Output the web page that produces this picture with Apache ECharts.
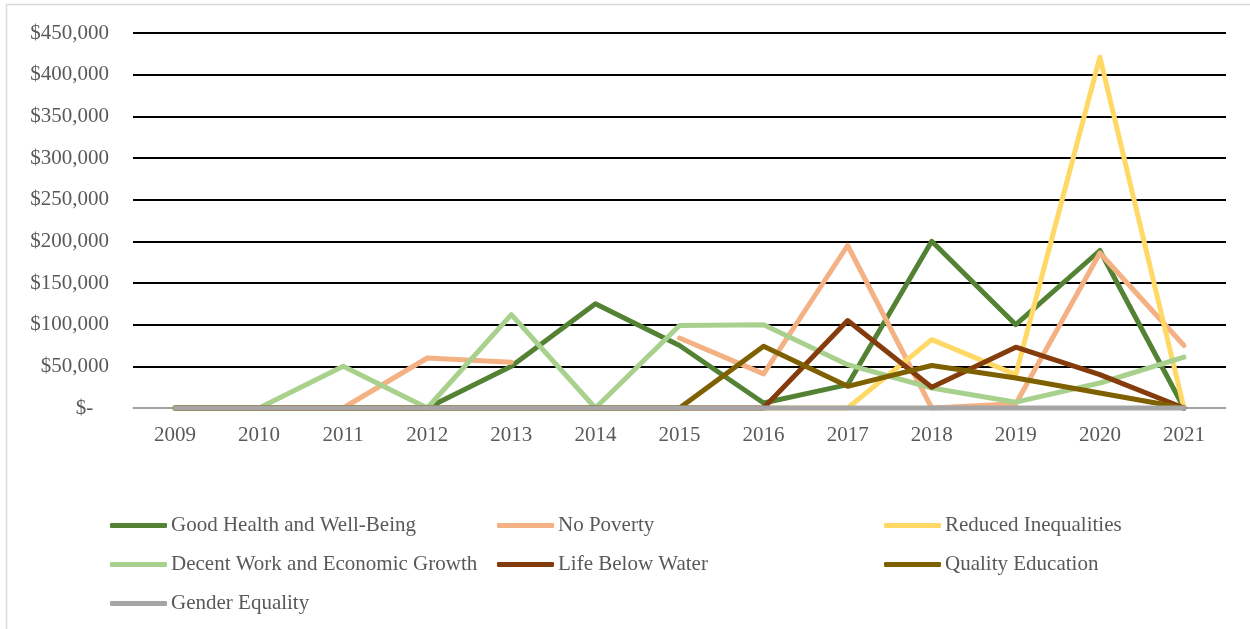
<!DOCTYPE html>
<html>
<head>
<meta charset="utf-8">
<script src="https://cdn.jsdelivr.net/npm/echarts@6/dist/echarts.min.js"></script>
<style>
  html, body { margin: 0; padding: 0; background: #fff; }
  #chart { width: 1250px; height: 629px; }
</style>
</head>
<body>
<div id="chart"></div>
<script>
// Annual funding by Sustainable Development Goal
const years = ['2009','2010','2011','2012','2013','2014','2015','2016','2017','2018','2019','2020','2021'];

const goodHealth        = [0, 0, 0, 0, 50000, 125000, 75000, 6000, 28000, 200000, 100000, 189000, 0];
const noPoverty         = [0, 0, 0, 60000, 55000, null, 84000, 41000, 195000, 0, 5000, 186000, 75000];
const reducedInequal    = [0, 0, 0, 0, 0, 0, 0, 0, 0, 82000, 40000, 421000, 0];
const decentWork        = [0, 0, 50000, 0, 112000, 0, 99000, 100000, 52000, 24000, 7000, 30000, 61000];
const lifeBelowWater    = [0, 0, 0, 0, 0, 0, 0, 0, 105000, 25000, 73000, 40000, 0];
const qualityEducation  = [0, 0, 0, 0, 0, 0, 0, 74000, 26000, 51000, 36000, 18000, 0];
const genderEquality    = [0, 0, 0, 0, 0, 0, 0, 0, 0, 0, 0, 0, 0];

const seriesDefs = [
  { name: 'Good Health and Well-Being',      data: goodHealth,       color: '#548235' },
  { name: 'No Poverty',                      data: noPoverty,        color: '#F4B183' },
  { name: 'Reduced Inequalities',            data: reducedInequal,   color: '#FFD966' },
  { name: 'Decent Work and Economic Growth', data: decentWork,       color: '#A9D18E' },
  { name: 'Life Below Water',                data: lifeBelowWater,   color: '#843C0C' },
  { name: 'Quality Education',               data: qualityEducation, color: '#7F6000' },
  { name: 'Gender Equality',                 data: genderEquality,   color: '#A5A5A5' }
];

const FONT = '"Liberation Serif", "Times New Roman", serif';
const TEXT_COLOR = '#595959';
const FONT_SIZE = 21;

function money(v) {
  if (v === 0) return '$-   ';
  return '$' + v.toLocaleString('en-US');
}

const chart = echarts.init(document.getElementById('chart'), null, { renderer: 'canvas' });

// Legend laid out as three fixed columns
const legendCols = [110, 497, 884];
const legendRows = [514, 553, 592];
const legends = seriesDefs.map((s, i) => ({
  data: [{ name: s.name }],
  left: legendCols[i % 3],
  top: legendRows[Math.floor(i / 3)] + 1,
  orient: 'horizontal',
  itemWidth: 57,
  itemHeight: 5,
  itemGap: 0,
  padding: 0,
  icon: 'roundRect',
  textStyle: { fontFamily: FONT, fontSize: FONT_SIZE, color: TEXT_COLOR, padding: [0, 0, 0, -1] },
  selectedMode: false
}));

chart.setOption({
  animation: false,
  backgroundColor: '#ffffff',
  graphic: [{
    type: 'rect',
    shape: { x: 6.5, y: 4.5, width: 1300, height: 700 },
    style: { fill: 'none', stroke: '#D9D9D9', lineWidth: 1.5 },
    silent: true,
    z: -10
  }],
  legend: legends,
  grid: { left: 133, right: 24, top: 33, bottom: 221, containLabel: false },
  xAxis: {
    type: 'category',
    data: years,
    boundaryGap: true,
    axisLine: { show: true, lineStyle: { color: '#D9D9D9', width: 1.5 } },
    axisTick: { show: false },
    axisLabel: { fontFamily: FONT, fontSize: FONT_SIZE, color: TEXT_COLOR, margin: 17 },
    splitLine: { show: false }
  },
  yAxis: {
    type: 'value',
    min: 0,
    max: 450000,
    interval: 50000,
    axisLine: { show: false },
    axisTick: { show: false },
    axisLabel: { fontFamily: FONT, fontSize: FONT_SIZE, color: TEXT_COLOR, margin: 24, formatter: money },
    splitLine: { show: true, lineStyle: { color: '#000000', width: 2 } }
  },
  series: seriesDefs.map((s, i) => ({
    name: s.name,
    type: 'line',
    data: s.data,
    color: s.color,
    showSymbol: false,
    symbol: 'none',
    clip: false,
    connectNulls: false,
    lineStyle: { width: 5, color: s.color, cap: 'round', join: 'round' },
    z: 2 + i
  }))
});
</script>
</body>
</html>
